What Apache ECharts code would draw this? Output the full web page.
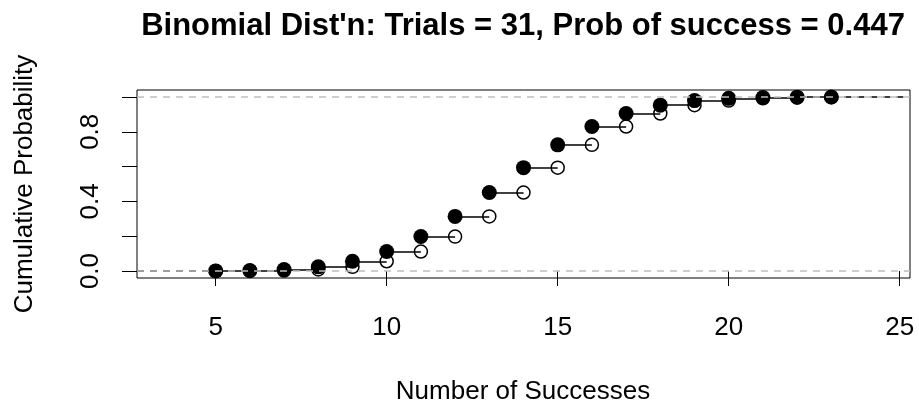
<!DOCTYPE html>
<html>
<head>
<meta charset="utf-8" />
<title>Binomial CDF</title>
<script src="https://cdn.jsdelivr.net/npm/echarts@6/dist/echarts.min.js"></script>
<style>
  html, body { margin: 0; padding: 0; background: #fff; }
  #main { width: 919px; height: 407px; }
</style>
</head>
<body>
<div id="main"></div>
<script type="text/javascript">
/* data */
var successes = [5, 6, 7, 8, 9, 10, 11, 12, 13, 14, 15, 16, 17, 18, 19, 20, 21, 22, 23];
/* P(X <= k) at each k (filled points) */
var cdf = [0.0008, 0.003, 0.009, 0.024, 0.056, 0.112, 0.198, 0.314, 0.451, 0.594, 0.725, 0.830, 0.905, 0.953, 0.979, 0.992, 0.997, 0.999, 1.000];
/* P(X <= k-1) at each k (open points) */
var cdfBefore = [0.0002, 0.0008, 0.003, 0.009, 0.024, 0.056, 0.112, 0.198, 0.314, 0.451, 0.594, 0.725, 0.830, 0.905, 0.953, 0.979, 0.992, 0.997, 0.999];
var xTicks = [5, 10, 15, 20, 25];
var yTicks = [0, 0.2, 0.4, 0.6, 0.8, 1];
var yLabels = [0, 0.4, 0.8];
var xLimits = [2.7, 25.3];
var yLimits = [-0.04, 1.04];

var font = "'Liberation Sans', Arial, Helvetica, sans-serif";

var filled = [], open = [], steps = [];
for (var i = 0; i < successes.length; i++) {
    filled.push([successes[i], cdf[i]]);
    open.push([successes[i], cdfBefore[i]]);
    if (i < successes.length - 1) {
        steps.push({ coords: [[successes[i], cdf[i]], [successes[i + 1], cdf[i]]] });
    }
}
var last = successes.length - 1;

var chart = echarts.init(document.getElementById('main'));
var option = {
    animation: false,
    grid: {
        left: 137, right: 9, top: 90, bottom: 129,
        show: true, borderColor: '#000', borderWidth: 1, backgroundColor: 'transparent'
    },
    xAxis: {
        type: 'value', min: xLimits[0], max: xLimits[1],
        axisLine: { show: false },
        splitLine: { show: false },
        axisTick: { show: true, length: 15, customValues: xTicks, lineStyle: { color: '#000', width: 1 } },
        axisLabel: { customValues: xTicks, margin: 37, color: '#000', fontSize: 26, fontFamily: font }
    },
    yAxis: {
        type: 'value', min: yLimits[0], max: yLimits[1],
        axisLine: { show: false },
        splitLine: { show: false },
        axisTick: { show: true, length: 15, customValues: yTicks, lineStyle: { color: '#000', width: 1 } },
        axisLabel: {
            customValues: yLabels, margin: 33, rotate: 90, color: '#000', fontSize: 26, fontFamily: font,
            formatter: function (v) { return v.toFixed(1); }
        }
    },
    graphic: [
        { type: 'text', x: 523, y: 26, style: { text: "Binomial Dist'n: Trials = 31, Prob of success = 0.447",
            font: 'bold 31px ' + font, fill: '#000', textAlign: 'center', textVerticalAlign: 'middle' } },
        { type: 'text', x: 523, y: 392, style: { text: 'Number of Successes',
            font: '26px ' + font, fill: '#000', textAlign: 'center', textVerticalAlign: 'middle' } },
        { type: 'text', x: 25, y: 184, rotation: Math.PI / 2, style: { text: 'Cumulative Probability',
            font: '26px ' + font, fill: '#000', textAlign: 'center', textVerticalAlign: 'middle' } }
    ],
    series: [
        {
            /* grey reference lines at 0 and 1 */
            type: 'line', data: [], symbol: 'none', silent: true,
            markLine: {
                symbol: 'none', silent: true, label: { show: false },
                lineStyle: { color: '#bebebe', type: [7, 6], width: 1.5 },
                data: [{ yAxis: 0 }, { yAxis: 1 }]
            }
        },
        {
            type: 'line', symbol: 'none', silent: true,
            lineStyle: { color: '#000', type: [7, 6], width: 1.5 },
            data: [[xLimits[0], 0], [successes[0], 0]]
        },
        {
            type: 'line', symbol: 'none', silent: true,
            lineStyle: { color: '#000', type: [7, 6], width: 1.5 },
            data: [[successes[last], cdf[last]], [xLimits[1], cdf[last]]]
        },
        {
            type: 'lines', coordinateSystem: 'cartesian2d', silent: true,
            lineStyle: { color: '#000', width: 1.5, opacity: 1 },
            data: steps
        },
        {
            type: 'scatter', symbol: 'circle', symbolSize: 13, silent: true,
            itemStyle: { color: 'rgba(0,0,0,0)', borderColor: '#000', borderWidth: 1.5, opacity: 1 },
            data: open
        },
        {
            type: 'scatter', symbol: 'circle', symbolSize: 15, silent: true,
            itemStyle: { color: '#000', opacity: 1 },
            data: filled
        }
    ]
};
chart.setOption(option);
window.onresize = chart.resize;
</script>
</body>
</html>
